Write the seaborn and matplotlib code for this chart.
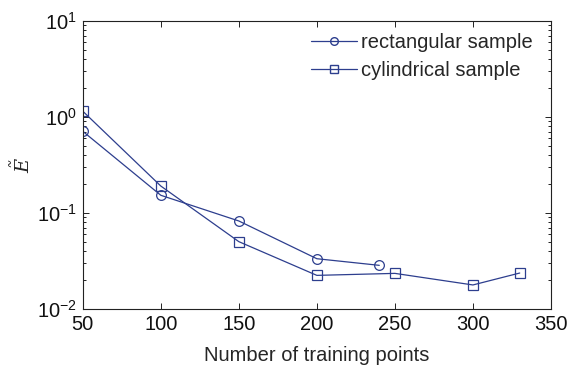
import numpy as np
import pandas as pd
import matplotlib
matplotlib.use("Agg")
import matplotlib.pyplot as plt
from matplotlib.ticker import LogLocator, NullFormatter
from matplotlib.lines import Line2D
import seaborn as sns

# Error versus training set size for the two sample geometries
rect_points = [50, 100, 150, 200, 240]
rect_error = [0.71, 0.153, 0.0826, 0.0334, 0.0285]

cyl_points = [50, 100, 150, 200, 250, 300, 330]
cyl_error = [1.15, 0.191, 0.0503, 0.0224, 0.0235, 0.0178, 0.0237]

series_names = ["rectangular sample", "cylindrical sample"]
x_ticks = [50, 100, 150, 200, 250, 300, 350]

df = pd.concat([
    pd.DataFrame({"n": rect_points, "err": rect_error, "sample": series_names[0]}),
    pd.DataFrame({"n": cyl_points, "err": cyl_error, "sample": series_names[1]}),
], ignore_index=True)

sns.set_style("ticks")
plt.rcParams["font.family"] = ["Liberation Sans", "DejaVu Sans"]
plt.rcParams["mathtext.default"] = "regular"

line_color = "#2D3E8E"
font_size = 14.5

fig = plt.figure(figsize=(5.83, 3.73), dpi=100)
ax = fig.add_axes([0.142, 0.1716, 0.803, 0.772])

sns.lineplot(
    data=df, x="n", y="err", hue="sample", style="sample",
    palette=[line_color, line_color],
    markers={series_names[0]: "o", series_names[1]: "s"},
    dashes=False, ax=ax, linewidth=0.9, markersize=7,
    markerfacecolor="none", markeredgecolor=line_color, markeredgewidth=0.9,
    legend=False,
)

ax.set_yscale("log")
ax.set_ylim(1e-2, 1e1)
ax.set_xlim(50, 350)
ax.set_xticks(x_ticks)
ax.yaxis.set_major_locator(LogLocator(base=10, numticks=10))
ax.yaxis.set_minor_locator(LogLocator(base=10, subs=np.arange(2, 10), numticks=20))
ax.yaxis.set_minor_formatter(NullFormatter())

ax.tick_params(which="both", direction="in", top=True, right=True,
               labelsize=font_size, colors="#222222", labelcolor="#111111", width=0.7)
ax.tick_params(which="major", length=4, pad=4)
ax.tick_params(which="minor", length=2.5)
for side in ax.spines.values():
    side.set_linewidth(0.8)
    side.set_color("#222222")

ax.set_xlabel("Number of training points", fontsize=font_size, labelpad=9)
ax.set_ylabel(r"$\tilde{E}$", fontsize=14, family="DejaVu Serif", labelpad=2)
ax.yaxis.label.set_fontstyle("italic")

handles = [
    Line2D([], [], color=line_color, lw=0.9, marker="o", markersize=5.5,
           markerfacecolor="none", markeredgecolor=line_color),
    Line2D([], [], color=line_color, lw=0.9, marker="s", markersize=5.5,
           markerfacecolor="none", markeredgecolor=line_color),
]
ax.legend(handles, series_names, loc="upper right", frameon=False,
          fontsize=font_size, handlelength=2.3, handletextpad=0.2,
          labelspacing=0.45, borderaxespad=0.2,
          bbox_to_anchor=(0.987, 1.0))

fig.savefig("out.png", dpi=100, facecolor="white")
